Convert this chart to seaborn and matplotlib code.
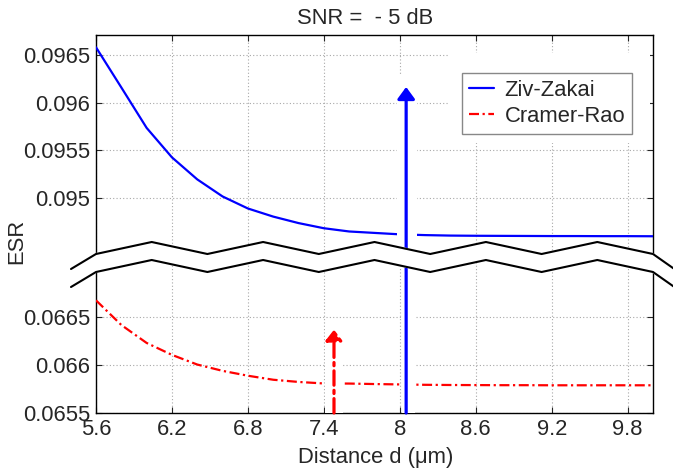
import numpy as np
import pandas as pd
import matplotlib
matplotlib.use("Agg")
import matplotlib.pyplot as plt
import seaborn as sns
from matplotlib.patches import Polygon, Rectangle
from matplotlib.lines import Line2D

# ---------------- data ----------------
distance = [5.6, 5.8, 6.0, 6.2, 6.4, 6.6, 6.8, 7.0, 7.2, 7.4, 7.6, 7.8,
            8.0, 8.2, 8.4, 8.6, 8.8, 9.0, 9.2, 9.4, 9.6, 9.8, 10.0]
ziv_zakai = [0.096581, 0.096160, 0.095736, 0.095427, 0.095196, 0.095017,
             0.094891, 0.094806, 0.094738, 0.094684, 0.094650, 0.094635,
             0.094620, 0.094612, 0.094607, 0.094605, 0.094604, 0.094603,
             0.094602, 0.094602, 0.094601, 0.094601, 0.094600]
cramer_rao = [0.066679, 0.066421, 0.066233, 0.066108, 0.066007, 0.065941,
              0.065890, 0.065848, 0.065825, 0.065809, 0.065808, 0.065803,
              0.065799, 0.065795, 0.065793, 0.065792, 0.065791, 0.065791,
              0.065790, 0.065790, 0.065790, 0.065790, 0.065790]
series_labels = ["Ziv-Zakai", "Cramer-Rao"]

x_ticks = [5.6, 6.2, 6.8, 7.4, 8.0, 8.6, 9.2, 9.8]
x_tick_labels = ["5.6", "6.2", "6.8", "7.4", "8", "8.6", "9.2", "9.8"]
top_y_ticks = [0.095, 0.0955, 0.096, 0.0965]
top_y_labels = ["0.095", "0.0955", "0.096", "0.0965"]
bot_y_ticks = [0.0655, 0.066, 0.0665]
bot_y_labels = ["0.0655", "0.066", "0.0665"]

title_text = "SNR =  - 5 dB"
x_label = "Distance d (\u03bcm)"
y_label = "ESR"

zz_arrow_x, zz_arrow_tip = 8.05, 0.096165
cr_arrow_x, cr_arrow_tip = 7.48, 0.066372

# ---------------- style ----------------
sns.set_style("white")
plt.rcParams['font.family'] = ['Liberation Sans', 'DejaVu Sans']
plt.rcParams['font.size'] = 15.8

BLUE = "#0000ff"
RED = "#ff0000"
DASHDOT = (0, (4.5, 1.6, 1, 1.6))

W, H = 673, 470
fig = plt.figure(figsize=(W / 100, H / 100), dpi=100)


def fx(px):
    return px / W


def fy(py):
    return 1 - py / H


L, R, T, SEAM, B = 96, 653, 35, 260, 413
ax_bot = fig.add_axes([fx(L), fy(B), fx(R) - fx(L), fy(SEAM) - fy(B)])
ax_top = fig.add_axes([fx(L), fy(SEAM), fx(R) - fx(L), fy(T) - fy(SEAM)])

ax_top.set_ylim(0.094351, 0.09671)
ax_bot.set_ylim(0.0655, 0.067101)

df = pd.DataFrame({"distance": distance, "zz": ziv_zakai, "cr": cramer_rao})
sns.lineplot(data=df, x="distance", y="zz", ax=ax_top, color=BLUE,
             linewidth=1.6, zorder=3)
sns.lineplot(data=df, x="distance", y="cr", ax=ax_bot, color=RED,
             linewidth=1.6, zorder=3)
zz_line = ax_top.lines[-1]
cr_line = ax_bot.lines[-1]
cr_line.set_linestyle(DASHDOT)

for ax in (ax_top, ax_bot):
    ax.set_xlim(5.6, 10.0)
    ax.set_xlabel("")
    ax.set_ylabel("")
    ax.set_xticks(x_ticks)
    ax.set_xticklabels(x_tick_labels)
    ax.grid(True, linestyle=(0, (1, 2)), color="#a8a8a8", linewidth=0.8)
    ax.set_axisbelow(True)
    for s in ax.spines.values():
        s.set_linewidth(1.0)
        s.set_color("black")

ax_top.set_yticks(top_y_ticks)
ax_top.set_yticklabels(top_y_labels)
ax_bot.set_yticks(bot_y_ticks)
ax_bot.set_yticklabels(bot_y_labels)

ax_top.spines['bottom'].set_visible(False)
ax_bot.spines['top'].set_visible(False)
ax_top.tick_params(axis='x', direction='in', length=4, width=0.8, top=True,
                   bottom=False, labelbottom=False, labeltop=False)
ax_top.tick_params(axis='y', direction='in', length=4, width=0.8, left=True,
                   right=True, pad=4)
ax_bot.tick_params(axis='x', direction='in', length=4, width=0.8, top=False,
                   bottom=True, pad=4)
ax_bot.tick_params(axis='y', direction='in', length=4, width=0.8, left=True,
                   right=True, pad=4)

# white halos around the arrows (above curves and grid, below arrows)
t0 = ax_top.get_ylim()[0]
ax_top.add_patch(Rectangle((7.975, t0), 0.162, 0.09629 - t0,
                           facecolor="white", edgecolor="none", zorder=3.5))
b0, b1 = ax_bot.get_ylim()
ax_bot.add_patch(Rectangle((8.016, b0), 0.102, b1 - b0,
                           facecolor="white", edgecolor="none", zorder=3.5))
ax_bot.add_patch(Rectangle((7.409, b0), 0.142, 0.06642 - b0,
                           facecolor="white", edgecolor="none", zorder=3.5))
# white area behind legend
ax_top.add_patch(Rectangle((0.632, 0.52), 0.363, 0.40, transform=ax_top.transAxes,
                           facecolor="white", edgecolor="none", zorder=2.6))

# arrows
ax_top.annotate("", xy=(zz_arrow_x, zz_arrow_tip), xycoords='data',
                xytext=(zz_arrow_x, b0), textcoords=ax_bot.transData,
                arrowprops=dict(arrowstyle="-|>,head_length=0.45,head_width=0.33",
                                color=BLUE, lw=2.3, shrinkA=0, shrinkB=0),
                annotation_clip=False, zorder=4)
ax_bot.annotate("", xy=(cr_arrow_x, cr_arrow_tip), xycoords='data',
                xytext=(cr_arrow_x, b0), textcoords='data',
                arrowprops=dict(arrowstyle="-|>,head_length=0.40,head_width=0.31",
                                color=RED, lw=2.3, linestyle=DASHDOT,
                                shrinkA=0, shrinkB=0),
                annotation_clip=False, zorder=4)

# legend
leg = ax_top.legend([zz_line, cr_line], series_labels, loc='upper left',
                    bbox_to_anchor=(0.657, 0.831), borderaxespad=0,
                    frameon=True, fancybox=False, edgecolor='#888888',
                    framealpha=1, handlelength=1.15, handletextpad=0.5,
                    labelspacing=0.25, borderpad=0.3)
leg.get_frame().set_linewidth(1.0)
leg.set_zorder(5)

# axis break (zigzag)
n = 10
step = (R - L) / n
zx = [71] + [L + k * step for k in range(n + 1)] + [690]
zy = [269] + [254 if k % 2 == 0 else 242 for k in range(n + 1)] + [280]
gap = 18
up = np.c_[[fx(v) for v in zx], [fy(v) for v in zy]]
lo = np.c_[[fx(v) for v in zx], [fy(v + gap) for v in zy]]
fig.add_artist(Polygon(np.vstack([up, lo[::-1]]), closed=True,
                       transform=fig.transFigure, facecolor="white",
                       edgecolor="white", lw=1.5, zorder=10))
for pts in (up, lo):
    fig.add_artist(Line2D(pts[:, 0], pts[:, 1], transform=fig.transFigure,
                          color="black", lw=1.5, zorder=11))

# texts
fig.text(fx(365), fy(24.5), title_text, ha='center', va='baseline')
fig.text(fx(376), fy(463), x_label, ha='center', va='baseline')
fig.text(fx(17), fy(241.5), y_label, rotation=90, ha='center', va='center')

fig.savefig("out.png", dpi=100)
